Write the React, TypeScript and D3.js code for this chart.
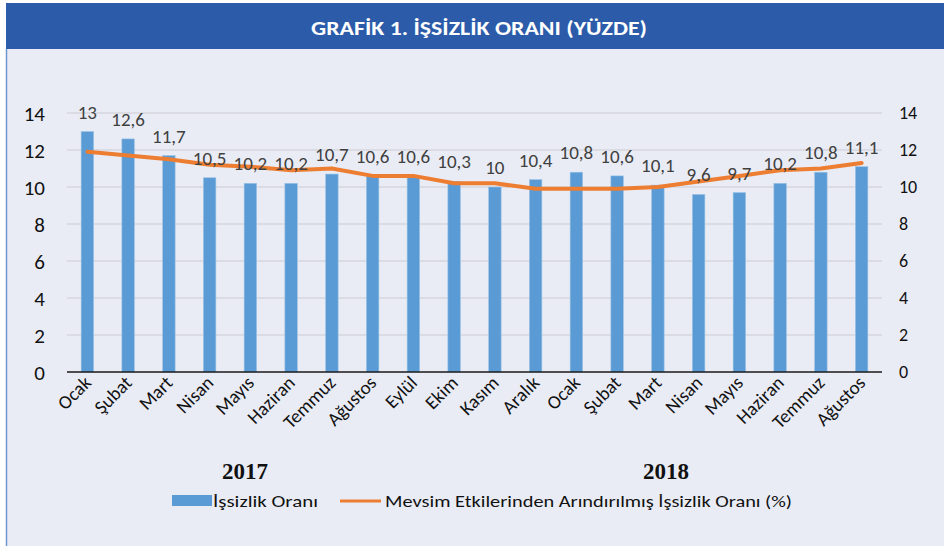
import * as d3 from 'd3';

const months = [
  'Ocak', 'Şubat', 'Mart', 'Nisan', 'Mayıs', 'Haziran', 'Temmuz', 'Ağustos', 'Eylül', 'Ekim',
  'Kasım', 'Aralık', 'Ocak', 'Şubat', 'Mart', 'Nisan', 'Mayıs', 'Haziran', 'Temmuz', 'Ağustos',
];
const unemployment = [13, 12.6, 11.7, 10.5, 10.2, 10.2, 10.7, 10.6, 10.6, 10.3, 10, 10.4, 10.8, 10.6, 10.1, 9.6, 9.7, 10.2, 10.8, 11.1];
const seasonallyAdjusted = [11.9, 11.7, 11.5, 11.2, 11.1, 10.9, 11.0, 10.6, 10.6, 10.2, 10.2, 9.9, 9.9, 9.9, 10.0, 10.3, 10.6, 10.9, 11.0, 11.3];
const yTicks = [0, 2, 4, 6, 8, 10, 12, 14];
// year label sits under this (fractional) category index
const years = [
  { label: '2017', at: 3.87 },
  { label: '2018', at: 14.2 },
];

const W = 944;
const H = 546;
const PLOT = { left: 67, right: 882, top: 113, bottom: 372 };
const FONT = "Carlito, 'Open Sans', sans-serif";

export default function App() {
  const keys = months.map((_, i) => String(i));
  const x = d3.scaleBand().domain(keys).range([PLOT.left, PLOT.right]).paddingInner(0);
  const y = d3.scaleLinear().domain([0, 14]).range([PLOT.bottom, PLOT.top]);
  const barW = 12.5;
  const cx = (i: number) => PLOT.left + (i + 0.5) * x.step();

  const line = d3.line<number>()
    .x((_, i) => cx(i))
    .y(d => y(d));

  const fmt = (v: number) => String(v).replace('.', ',');

  return (
    <svg width={W} height={H} style={{ position: 'fixed', left: 0, top: 0 }} fontFamily={FONT}>
      <rect x={0} y={0} width={W} height={H} fill="#ffffff" />
      <rect x={6} y={49} width={W - 6} height={H - 49} fill="#E9ECF5" />
      <line x1={6.5} x2={6.5} y1={49} y2={H} stroke="#6F96D1" strokeWidth={1.5} />
      <rect x={6} y={3} width={W - 6} height={46} fill="#2B5BA9" />
      <text x={479} y={35} textAnchor="middle" fill="#ffffff" fontWeight={700} fontSize={20}
        textLength={336} lengthAdjust="spacingAndGlyphs">
        GRAFİK 1. İŞSİZLİK ORANI (YÜZDE)
      </text>

      {yTicks.map(t => (
        <g key={t}>
          {t > 0 && (
            <line x1={PLOT.left} x2={PLOT.right} y1={y(t)} y2={y(t)} stroke="#D6D7DD" strokeWidth={1.5} />
          )}
          <text x={45} y={y(t)} dy="0.36em" textAnchor="end" fontSize={21} fill="#111">{t}</text>
          <text x={899} y={y(t)} dy="0.36em" textAnchor="start" fontSize={18} fill="#111">{t}</text>
        </g>
      ))}

      {unemployment.map((v, i) => (
        <rect key={i} x={cx(i) - barW / 2} y={y(v)} width={barW} height={y(0) - y(v)}
          fill="#5B9BD5" stroke="#9DC3E6" strokeWidth={0.6} />
      ))}

      <line x1={PLOT.left} x2={PLOT.right} y1={y(0)} y2={y(0)} stroke="#1a1a1a" strokeWidth={1.5} />

      <path d={line(seasonallyAdjusted) || ''} fill="none" stroke="#ED7D31" strokeWidth={4}
        strokeLinejoin="round" strokeLinecap="round" />

      {unemployment.map((v, i) => (
        <text key={i} x={cx(i)} y={y(v) - 13} textAnchor="middle" fontSize={19} fill="#404040">{fmt(v)}</text>
      ))}

      {months.map((m, i) => (
        <text key={i} transform={`translate(${cx(i) + 5},${384}) rotate(-45)`} textAnchor="end"
          fontSize={19} fill="#111">{m}</text>
      ))}

      {years.map(yr => (
        <text key={yr.label} x={cx(yr.at)} y={479}
          textAnchor="middle" fontFamily="'Liberation Serif', 'Times New Roman', serif" fontWeight={700}
          fontSize={23} fill="#111">{yr.label}</text>
      ))}

      <rect x={172} y={495} width={40} height={11} fill="#5B9BD5" />
      <text x={213} y={507} fontSize={17} fill="#111" textLength={105} lengthAdjust="spacingAndGlyphs">İşsizlik Oranı</text>
      <line x1={340} x2={381} y1={501} y2={501} stroke="#ED7D31" strokeWidth={3} />
      <text x={385} y={507} fontSize={17} fill="#111" textLength={407} lengthAdjust="spacingAndGlyphs">
        Mevsim Etkilerinden Arındırılmış İşsizlik Oranı (%)
      </text>
    </svg>
  );
}
